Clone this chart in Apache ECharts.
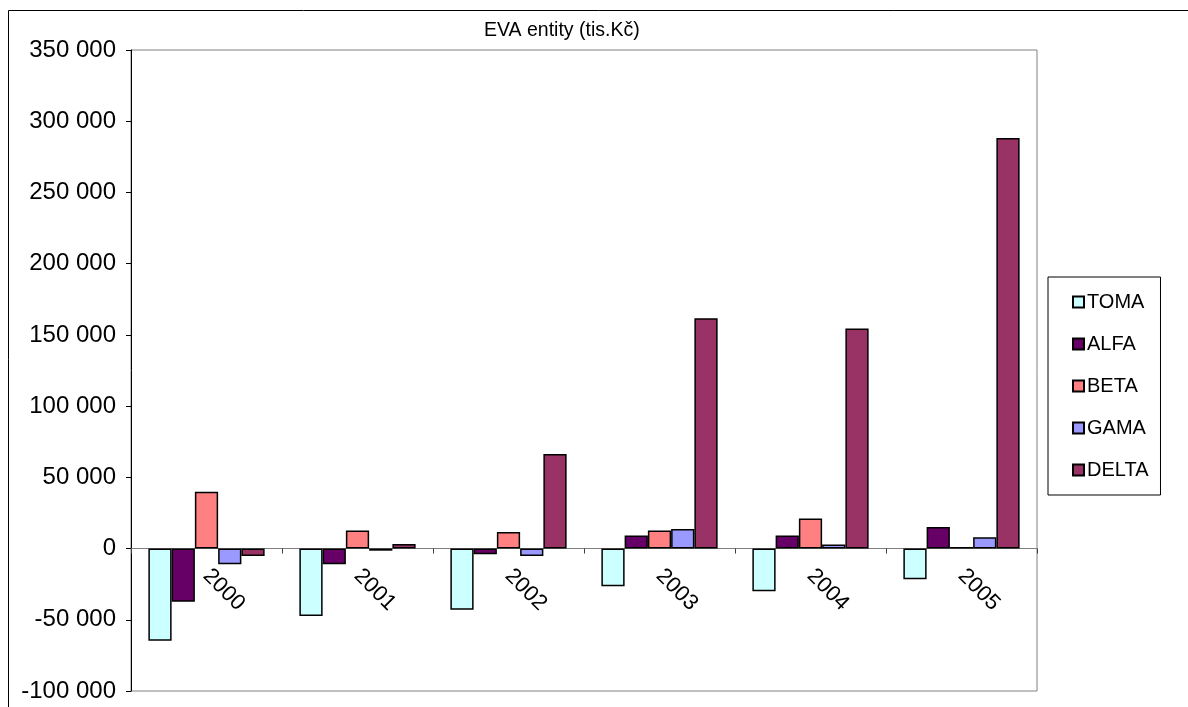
<!DOCTYPE html>
<html>
<head>
<meta charset="utf-8">
<title>EVA entity (tis.Kč)</title>
<script src="https://cdn.jsdelivr.net/npm/echarts@6/dist/echarts.min.js"></script>
<style>
  html, body { margin: 0; padding: 0; background: #fff; }
  #chart { width: 1188px; height: 707px; }
</style>
</head>
<body>
<div id="chart"></div>
<script>
// Years on the category axis
const years = ['2000', '2001', '2002', '2003', '2004', '2005'];

// EVA per company, thousands CZK
const toma  = [-64700, -47400, -42900, -26500, -30000, -21600];
const alfa  = [-37300, -11000, -4000, 9100, 9100, 15200];
const beta  = [39800, 12700, 11700, 12700, 21100, 1100];
const gama  = [-11000, -1500, -5200, 13800, 2800, 7900];
const delta = [-5200, 3200, 66300, 161700, 154400, 288300];

// Value axis range
const yMin = -100000;
const yMax = 350000;
const yStep = 50000;

const FONT = '"Liberation Sans", Arial, sans-serif';

const seriesDefs = [
  { name: 'TOMA',  data: toma,  color: '#CCFFFF' },
  { name: 'ALFA',  data: alfa,  color: '#660066' },
  { name: 'BETA',  data: beta,  color: '#FF8080' },
  { name: 'GAMA',  data: gama,  color: '#9999FF' },
  { name: 'DELTA', data: delta, color: '#993366' }
];

// Plot area box
const W = 1188, H = 707;
const gridTop = 50, gridBottom = 16, gridLeft = 131, gridRight = 151;
const gridHeight = H - gridTop - gridBottom;
// The category axis sits on the zero line: shift it up from the bottom edge
const zeroShift = (0 - yMin) / (yMax - yMin) * gridHeight;

function fmtThousands(v) {
  const s = String(Math.abs(v)).replace(/\B(?=(\d{3})+(?!\d))/g, ' ');
  return (v < 0 ? '-' : '') + s;
}

const chart = echarts.init(document.getElementById('chart'), null, { renderer: 'canvas' });

chart.setOption({
  animation: false,
  backgroundColor: '#ffffff',
  textStyle: { fontFamily: FONT, color: '#000' },
  graphic: [
    {
      type: 'rect',
      shape: { x: 8.5, y: 10.5, width: 1200, height: 720 },
      style: { fill: 'none', stroke: '#000', lineWidth: 1 },
      silent: true,
      z: -10
    }
  ],
  title: {
    text: 'EVA entity (tis.Kč)',
    left: 484,
    top: 21,
    padding: 0,
    textStyle: { fontFamily: FONT, fontSize: 19.5, fontWeight: 'normal', color: '#000' }
  },
  legend: {
    orient: 'vertical',
    left: 1048,
    top: 277,
    padding: [15, 12, 15, 24],
    itemGap: 22,
    itemWidth: 11,
    itemHeight: 11,
    icon: 'rect',
    borderColor: '#000',
    borderWidth: 1,
    backgroundColor: '#fff',
    textStyle: { fontFamily: FONT, fontSize: 20, color: '#000', padding: [0, 0, 0, -2] },
    data: seriesDefs.map(s => s.name)
  },
  grid: {
    left: gridLeft,
    top: gridTop,
    right: gridRight,
    bottom: gridBottom,
    containLabel: false,
    outerBoundsMode: 'none',
    show: true,
    borderColor: '#808080',
    borderWidth: 1,
    backgroundColor: 'transparent'
  },
  xAxis: {
    type: 'category',
    data: years,
    position: 'bottom',
    offset: -zeroShift,
    axisLine: { onZero: false, lineStyle: { color: '#808080', width: 1 } },
    axisTick: { show: true, alignWithLabel: false, length: 5, lineStyle: { color: '#404040' } },
    axisLabel: {
      rotate: -45,
      margin: 24,
      fontFamily: FONT,
      fontSize: 22,
      color: '#000'
    },
    splitLine: { show: false }
  },
  yAxis: {
    type: 'value',
    min: yMin,
    max: yMax,
    interval: yStep,
    axisLine: { show: true, lineStyle: { color: '#000', width: 1 } },
    axisTick: { show: true, length: 5, lineStyle: { color: '#000' } },
    axisLabel: {
      margin: 15,
      fontFamily: FONT,
      fontSize: 24,
      color: '#000',
      formatter: fmtThousands
    },
    splitLine: { show: false }
  },
  series: seriesDefs.map(s => ({
    name: s.name,
    type: 'bar',
    data: s.data,
    barGap: '0%',
    barCategoryGap: '23%',
    itemStyle: { color: s.color, borderColor: '#000', borderWidth: 1.5 },
    emphasis: { disabled: true }
  }))
});
</script>
</body>
</html>
